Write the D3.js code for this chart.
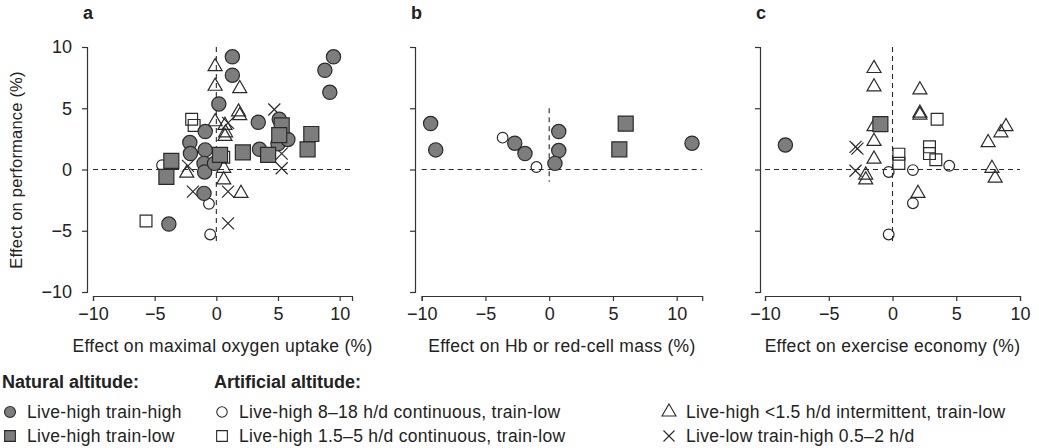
<!DOCTYPE html>
<html>
<head>
<meta charset="utf-8">
<script src="https://cdn.jsdelivr.net/npm/d3@7"></script>
<style>
  body { margin: 0; background: #fff; }
  text { font-family: "Liberation Sans", Arial, Helvetica, sans-serif; fill: #222; }
  .axis path, .axis line { stroke: #333; stroke-width: 1.2; }
  .axis text { font-size: 18px; fill: #222; }
  .lbl { font-size: 17.5px; letter-spacing: 0.3px; }
</style>
</head>
<body>
<div id="chart"></div>
<script>
const WIDTH  = 1039;
const HEIGHT = 448;

// panel a: effect on maximal oxygen uptake vs performance
const lhthA = [[1.3,9.2],[1.3,7.7],[9.5,9.2],[8.8,8.1],[9.2,6.3],[0.2,5.35],[3.4,3.85],[5.1,4.1],
  [-0.9,3.1],[-2.15,2.2],[-2.1,1.3],[-0.9,1.6],[-1.0,0.5],[-0.95,-0.2],[-0.15,0.5],[-1.0,-1.95],
  [3.5,1.65],[5.0,2.1],[5.8,2.45],[-3.85,-4.45]];
const lhtlA = [[7.7,2.9],[0.3,1.2],[2.15,1.4],[4.2,1.2],[7.4,1.65],[-3.65,0.7],[-4.05,-0.6],[5.3,3.6],[5.1,2.8]];
const contA = [[-4.4,0.35],[-0.6,-2.8],[-0.5,-5.3]];
const shortA = [[-2.0,4.1],[-1.8,3.6],[-5.7,-4.2],[0.6,1.0]];
const interA = [[-0.1,8.4],[-0.1,6.8],[1.9,6.6],[1.8,4.7],[1.9,4.4],[-0.1,3.9],[0.7,3.6],[0.75,3.0],
  [0.7,2.7],[-2.4,-0.3],[0.6,0.1],[0.6,-0.85],[2.0,-1.95]];
const lowA = [[4.7,4.9],[0.95,3.8],[5.3,0.1],[5.3,1.3],[-1.9,-1.8],[0.95,-1.8],[0.95,-4.4],[-2.3,0.3]];

// panel b: effect on Hb or red-cell mass vs performance
const lhthB = [[-9.3,3.75],[-8.9,1.6],[-2.7,2.15],[-1.9,1.3],[0.75,3.1],[0.75,1.55],[0.45,0.5],[11.2,2.15]];
const lhtlB = [[6.0,3.75],[5.5,1.65]];
const contB = [[-3.65,2.6],[-1.0,0.2]];

// panel c: effect on exercise economy vs performance
const lhthC = [[-8.4,2.0]];
const lhtlC = [[-0.95,3.7]];
const contC = [[4.45,0.3],[1.6,-0.05],[-0.3,-0.2],[1.6,-2.75],[-0.3,-5.3]];
const shortC = [[3.5,4.1],[2.9,1.85],[2.9,1.3],[3.4,0.8],[0.5,1.25],[0.5,0.5]];
const interC = [[-1.45,8.25],[-1.45,6.75],[2.15,6.5],[2.15,4.6],[2.15,4.45],[-1.45,3.5],[-1.45,2.3],
  [8.9,3.5],[8.5,3.0],[7.5,2.2],[-1.45,0.85],[-2.1,-0.45],[-2.1,-0.85],[7.8,0.1],[8.05,-0.7],[2.0,-1.95]];
const lowC = [[-2.9,1.85],[-2.75,1.7],[-2.9,-0.1]];

const xTicks = [-10, -5, 0, 5, 10];
const yTicks = [-10, -5, 0, 5, 10];
const panelLetters = ['a', 'b', 'c'];
const xTitles = ['Effect on maximal oxygen uptake (%)', 'Effect on Hb or red-cell mass (%)', 'Effect on exercise economy (%)'];

const GRAY = '#7d7d7d';
const INK  = '#2a2a2a';
const fmt = d => d < 0 ? '\u2212' + Math.abs(d) : String(d);

const svg = d3.select('#chart').append('svg')
  .attr('width', WIDTH)
  .attr('height', HEIGHT);

const y = d3.scaleLinear().domain([-10, 10]).range([292, 47]);

// per-panel layout
const panels = [
  { xMax: 11, range: [93, 352],      axisX: 87,  vline: [-6, 10], labels: true,
    groups: { lhth: lhthA, lhtl: lhtlA, cont: contA, short: shortA, inter: interA, low: lowA } },
  { xMax: 12, range: [421.7, 702.2], axisX: 415, vline: [-1, 5], labels: false,
    groups: { lhth: lhthB, lhtl: lhtlB, cont: contB, short: [], inter: [], low: [] } },
  { xMax: 10, range: [765, 1020],    axisX: 760, vline: [-6, 10], labels: false,
    groups: { lhth: lhthC, lhtl: lhtlC, cont: contC, short: shortC, inter: interC, low: lowC } }
];

const cross = s => `M${-s},${-s}L${s},${s}M${-s},${s}L${s},${-s}`;

const styles = {
  lhth:  { path: d3.symbol(d3.symbolCircle, 160)(),  fill: GRAY },
  lhtl:  { path: d3.symbol(d3.symbolSquare, 225)(),  fill: GRAY },
  cont:  { path: d3.symbol(d3.symbolCircle, 90)(),   fill: 'none' },
  short: { path: d3.symbol(d3.symbolSquare, 140)(),  fill: 'none' },
  inter: { path: d3.symbol(d3.symbolTriangle, 85)(), fill: 'none' },
  low:   { path: cross(6),                           fill: 'none' }
};
const drawOrder = ['cont', 'short', 'inter', 'low', 'lhth', 'lhtl'];

panels.forEach((p, i) => {
  const x = d3.scaleLinear().domain([-10, p.xMax]).range(p.range);
  const g = svg.append('g');

  // reference lines
  g.append('line')
    .attr('x1', x(-10)).attr('x2', x(p.xMax))
    .attr('y1', y(0)).attr('y2', y(0))
    .attr('stroke', INK).attr('stroke-width', 1.1).attr('stroke-dasharray', '5,4');
  g.append('line')
    .attr('x1', x(0)).attr('x2', x(0))
    .attr('y1', y(p.vline[1])).attr('y2', y(p.vline[0]))
    .attr('stroke', INK).attr('stroke-width', 1.1).attr('stroke-dasharray', '5,4');

  // axes
  g.append('g')
    .attr('class', 'axis')
    .attr('transform', 'translate(0,296)')
    .call(d3.axisBottom(x).tickValues(xTicks).tickSizeOuter(0).tickSize(5).tickPadding(6).tickFormat(fmt));
  g.append('g')
    .attr('class', 'axis')
    .attr('transform', 'translate(' + p.axisX + ',0)')
    .call(d3.axisLeft(y).tickValues(yTicks).tickSizeOuter(0).tickSize(5).tickPadding(10)
      .tickFormat(d => p.labels ? fmt(d) : ''));

  // points
  drawOrder.forEach(k => {
    const st = styles[k];
    g.selectAll('.pt-' + k)
      .data(p.groups[k])
      .join('path')
        .attr('class', 'pt-' + k)
        .attr('transform', d => 'translate(' + x(d[0]) + ',' + y(d[1]) + ')')
        .attr('d', st.path)
        .attr('fill', st.fill)
        .attr('stroke', INK)
        .attr('stroke-width', 1.2);
  });

  // panel letter
  g.append('text')
    .attr('x', p.axisX - 4).attr('y', 19)
    .style('font-size', '18px').style('font-weight', 'bold')
    .text(panelLetters[i]);

  // x title
  g.append('text')
    .attr('class', 'lbl')
    .attr('x', (p.range[0] + p.range[1]) / 2).attr('y', 352)
    .style('text-anchor', 'middle')
    .text(xTitles[i]);
});

// y title
svg.append('text')
  .attr('transform', 'rotate(-90)')
  .attr('x', -170).attr('y', 22)
  .style('text-anchor', 'middle')
  .style('font-size', '16.5px').style('letter-spacing', '0.2px')
  .text('Effect on performance (%)');

// legend
const legendCols = [
  { x: 2, title: 'Natural altitude:', items: [['lhth', 'Live-high train-high'], ['lhtl', 'Live-high train-low']] },
  { x: 214, title: 'Artificial altitude:', items: [['cont', 'Live-high 8\u201318 h/d continuous, train-low'], ['short', 'Live-high 1.5\u20135 h/d continuous, train-low']] },
  { x: 661, title: null, items: [['inter', 'Live-high <1.5 h/d intermittent, train-low'], ['low', 'Live-low train-high 0.5\u20132 h/d']] }
];
const legendSym = {
  lhth: d3.symbol(d3.symbolCircle, 95)(),
  lhtl: d3.symbol(d3.symbolSquare, 115)(),
  cont: d3.symbol(d3.symbolCircle, 85)(),
  short: d3.symbol(d3.symbolSquare, 115)(),
  inter: d3.symbol(d3.symbolTriangle, 85)(),
  low: cross(5.5)
};
const legend = svg.append('g');
legendCols.forEach(c => {
  if (c.title) {
    legend.append('text')
      .attr('x', c.x).attr('y', 388)
      .style('font-size', '18px').style('font-weight', 'bold')
      .text(c.title);
  }
  c.items.forEach((it, j) => {
    const cy = 412 + j * 24;
    legend.append('path')
      .attr('transform', 'translate(' + (c.x + 8) + ',' + cy + ')')
      .attr('d', legendSym[it[0]])
      .attr('fill', styles[it[0]].fill)
      .attr('stroke', INK).attr('stroke-width', 1.1);
    legend.append('text')
      .attr('class', 'lbl')
      .attr('x', c.x + 25).attr('y', cy + 6)
      .text(it[1]);
  });
});
</script>
</body>
</html>
